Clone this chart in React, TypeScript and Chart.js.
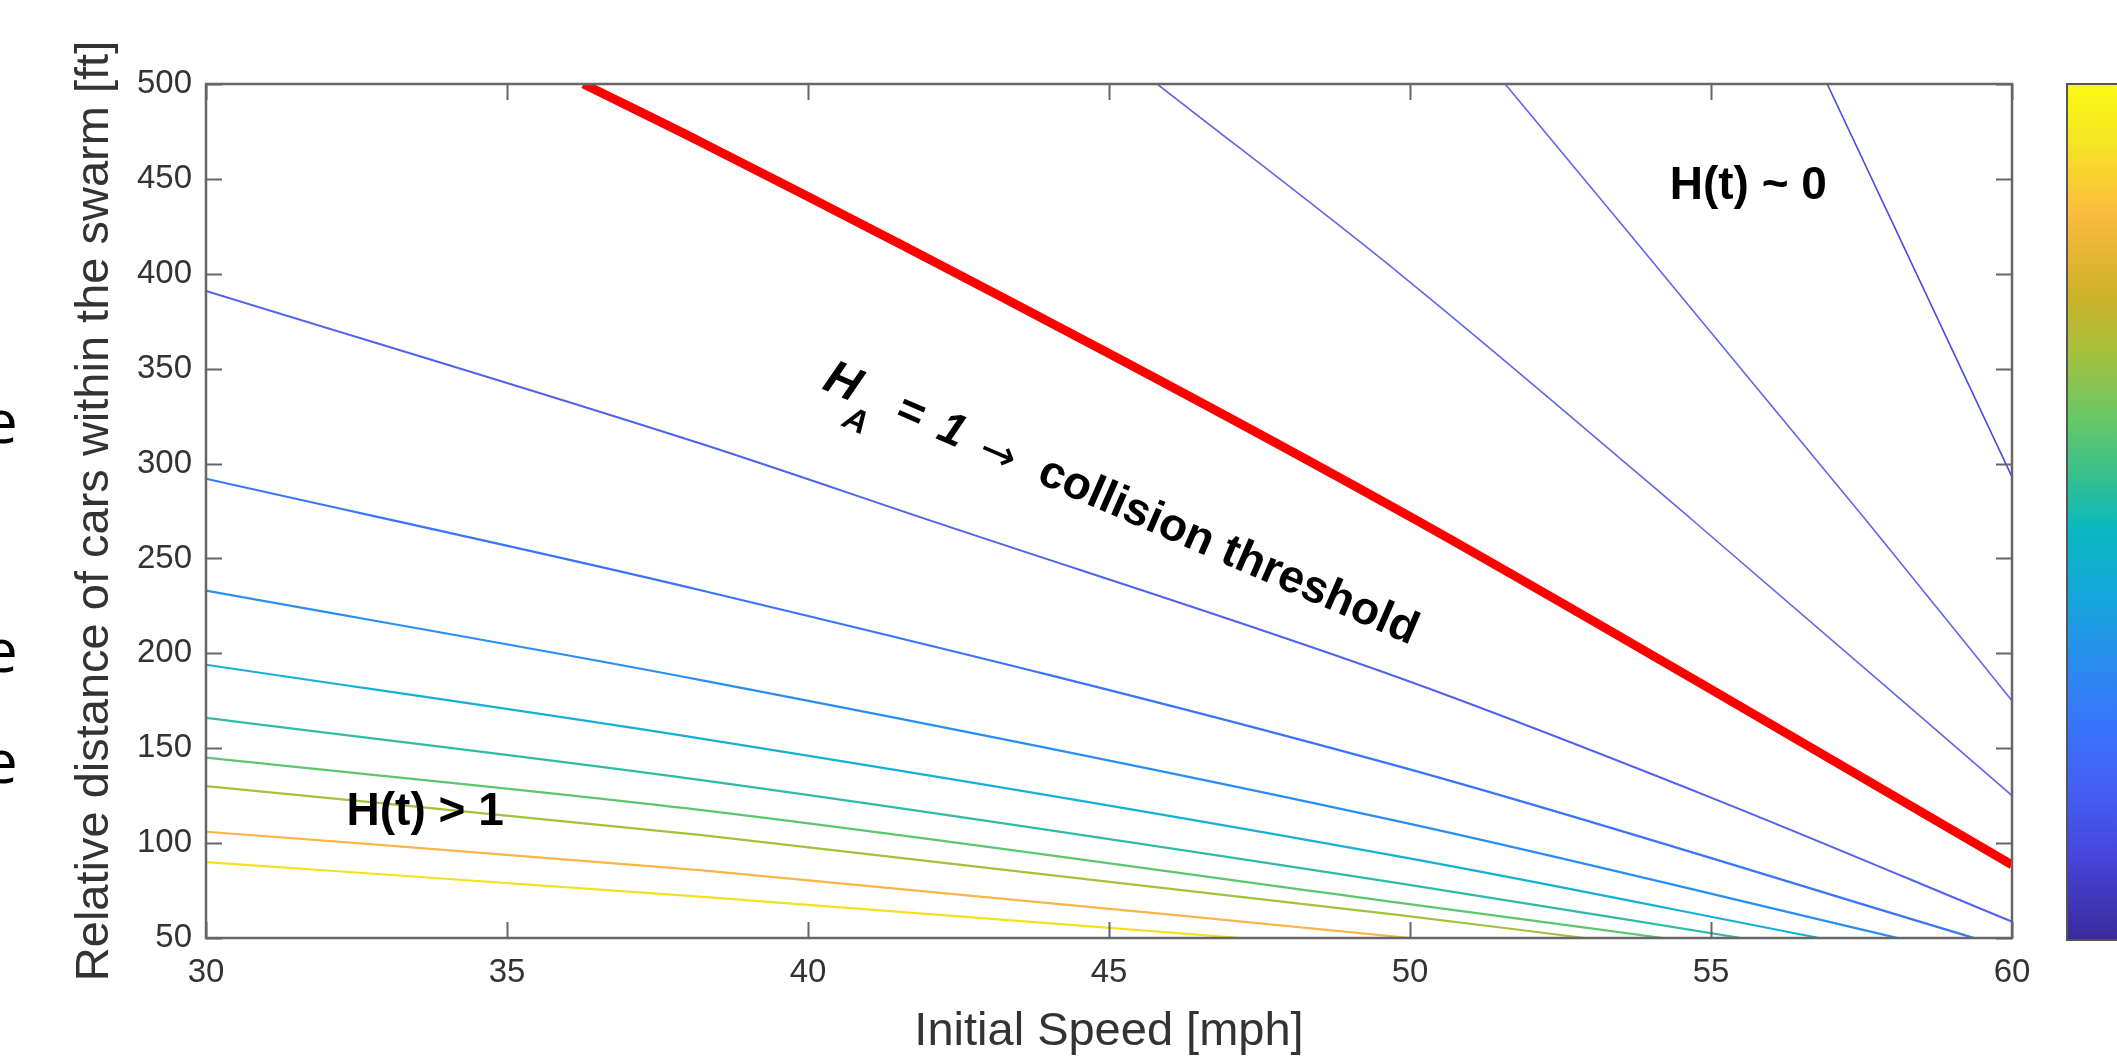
import React, { useEffect, useRef } from 'react';
import { Chart, registerables } from 'chart.js';

Chart.register(...registerables);

const W = 2117;
const H = 1056;

// ---- axes ----
const SPEED_MIN = 30;
const SPEED_MAX = 60;
const SPEED_STEP = 5;
const DIST_MIN = 50;
const DIST_MAX = 500;
const DIST_STEP = 50;
const X_TITLE = 'Initial Speed [mph]';
const Y_TITLE = 'Relative distance of cars within the swarm [ft]';

// ---- contour lines: [initial speed (mph), relative distance (ft)] ----
const contourU4: [number, number][] = [[56.93, 500], [60, 293]];
const contourU3: [number, number][] = [[51.58, 500], [57.58, 270], [60, 175]];
const contourU2: [number, number][] = [[45.8, 500], [49.83, 400], [54.7, 270], [60, 125]];
const collisionThreshold: [number, number][] = [[36.27, 500], [38.21, 469.6], [45, 358], [50, 272], [55, 181], [60, 88.5]];
const contourL1: [number, number][] = [[30, 391], [38.2, 310.7], [42, 270.3], [49.83, 187], [55, 124], [60, 58.6]];
const contourL2: [number, number][] = [[30, 292], [38.2, 233.4], [49.83, 140.3], [59.37, 50]];
const contourL3: [number, number][] = [[30, 233], [38.2, 186], [49.83, 111.3], [58.1, 50]];
const contourL4: [number, number][] = [[30, 194], [38.2, 155.2], [49.83, 92.9], [56.8, 50]];
const contourL5: [number, number][] = [[30, 166], [38.2, 133.3], [49.83, 78.8], [55.5, 50]];
const contourL6: [number, number][] = [[30, 145], [38.2, 117.5], [49.83, 68.5], [54.2, 50]];
const contourL7: [number, number][] = [[30, 130], [38.2, 104.3], [49.83, 62.1], [52.9, 50]];
const contourL8: [number, number][] = [[30, 106], [38.2, 85.8], [50, 50]];
const contourL9: [number, number][] = [[30, 90], [38.2, 71.8], [47.2, 50]];

// ---- text annotations (positions in data units) ----
const LABEL_HIGH = { text: 'H(t) > 1', speed: 33.64, dist: 109.6 };
const LABEL_LOW = { text: 'H(t) ~ 0', speed: 55.62, dist: 439.4 };
const THRESHOLD_ANCHOR = { speed: 43.78, dist: 290.4, angleDeg: 23.5 };
const THRESHOLD_TEXT = 'collision threshold';

// colorbar stops (top = high level, bottom = low level)
const COLORBAR_STOPS: [number, string][] = [
  [0.0, '#f9fa14'],
  [0.07, '#f5e424'],
  [0.15, '#fcbc3e'],
  [0.24, '#d2b128'],
  [0.31, '#a9c03b'],
  [0.39, '#68c865'],
  [0.46, '#35c090'],
  [0.52, '#08b8c0'],
  [0.6, '#16a6db'],
  [0.68, '#2a8bf0'],
  [0.75, '#3874fb'],
  [0.82, '#4560f6'],
  [0.9, '#4646dc'],
  [0.98, '#3d2fa8'],
  [1.0, '#3b2a9e'],
];

const SERIES = [
  { pts: contourL9, color: '#f2e21c', width: 2.2 },
  { pts: contourL8, color: '#fbb445', width: 2.2 },
  { pts: contourL7, color: '#a3c23c', width: 2.2 },
  { pts: contourL6, color: '#5cc66e', width: 2.2 },
  { pts: contourL5, color: '#2fbca5', width: 2.2 },
  { pts: contourL4, color: '#14b0d6', width: 2.2 },
  { pts: contourL3, color: '#2a8ef0', width: 2.2 },
  { pts: contourL2, color: '#3a74f8', width: 2.2 },
  { pts: contourL1, color: '#4f62f0', width: 2.0 },
  { pts: contourU2, color: '#6464e4', width: 1.6 },
  { pts: contourU3, color: '#6464e4', width: 1.6 },
  { pts: contourU4, color: '#4c4cd8', width: 1.6 },
  { pts: collisionThreshold, color: '#ff0000', width: 9 },
];

const FONT = '"Liberation Sans", Arial, Helvetica, sans-serif';
const AXIS_COLOR = '#666666';
const TEXT_GRAY = '#333333';
const TICK_LEN = 16;

const matlabAxes = {
  id: 'matlabAxes',
  afterDatasetsDraw(chart: any) {
    const { ctx, chartArea } = chart;
    const { left, right, top, bottom } = chartArea;
    const xs = chart.scales.x;
    const ys = chart.scales.y;
    ctx.save();
    ctx.strokeStyle = AXIS_COLOR;
    ctx.lineWidth = 2;
    ctx.beginPath();
    for (const t of xs.ticks) {
      const px = Math.round(xs.getPixelForValue(t.value)) + 0.5;
      ctx.moveTo(px, bottom);
      ctx.lineTo(px, bottom - TICK_LEN);
      ctx.moveTo(px, top);
      ctx.lineTo(px, top + TICK_LEN);
    }
    for (const t of ys.ticks) {
      const py = Math.round(ys.getPixelForValue(t.value)) + 0.5;
      ctx.moveTo(left, py);
      ctx.lineTo(left + TICK_LEN, py);
      ctx.moveTo(right, py);
      ctx.lineTo(right - TICK_LEN, py);
    }
    ctx.stroke();
    ctx.lineWidth = 2.5;
    ctx.strokeRect(left, top, right - left, bottom - top);

    // colorbar
    const cbLeft = 2067;
    const cbRight = W;
    const grad = ctx.createLinearGradient(0, top, 0, bottom + 2);
    for (const [p, c] of COLORBAR_STOPS) grad.addColorStop(p, c);
    ctx.fillStyle = grad;
    ctx.fillRect(cbLeft, top, cbRight - cbLeft, bottom + 2 - top);
    ctx.strokeStyle = '#555555';
    ctx.lineWidth = 2;
    ctx.beginPath();
    ctx.moveTo(cbRight, top);
    ctx.lineTo(cbLeft, top);
    ctx.lineTo(cbLeft, bottom + 2);
    ctx.lineTo(cbRight, bottom + 2);
    ctx.stroke();
    ctx.restore();
  },
  afterDraw(chart: any) {
    const { ctx } = chart;
    const xs = chart.scales.x;
    const ys = chart.scales.y;
    ctx.save();
    ctx.fillStyle = '#000000';
    ctx.textBaseline = 'alphabetic';
    ctx.textAlign = 'center';
    ctx.font = `bold 46px ${FONT}`;
    for (const a of [LABEL_HIGH, LABEL_LOW]) {
      ctx.fillText(a.text, xs.getPixelForValue(a.speed), ys.getPixelForValue(a.dist));
    }
    // rotated threshold label
    const ax = xs.getPixelForValue(THRESHOLD_ANCHOR.speed);
    const ay = ys.getPixelForValue(THRESHOLD_ANCHOR.dist);
    ctx.translate(ax, ay);
    ctx.rotate((THRESHOLD_ANCHOR.angleDeg * Math.PI) / 180);
    ctx.textAlign = 'left';
    ctx.font = `bold 46px ${FONT}`;
    ctx.fillText(THRESHOLD_TEXT, 0, 0);
    ctx.font = `italic bold 48px ${FONT}`;
    ctx.fillText('H', -234, 0);
    ctx.font = `italic bold 33px ${FONT}`;
    ctx.fillText('A', -201, 26);
    ctx.font = `italic bold 46px ${FONT}`;
    ctx.fillText('=', -156, 0);
    ctx.fillText('1', -110, 0);
    ctx.font = `44px "DejaVu Sans", sans-serif`;
    ctx.fillText('\u2192', -64, 3);
    ctx.restore();
  },
};

const LEFT_FRAGMENTS = [
  { text: 'e', top: 390 },
  { text: 'e', top: 619 },
  { text: 'e', top: 730 },
];

export default function App() {
  const ref = useRef<HTMLCanvasElement | null>(null);

  useEffect(() => {
    const canvas = ref.current;
    if (!canvas) return;
    const chart = new Chart(canvas, {
      type: 'line',
      data: {
        datasets: SERIES.map((s) => ({
          data: s.pts.map(([sp, d]) => ({ x: sp, y: d })),
          borderColor: s.color,
          backgroundColor: s.color,
          borderWidth: s.width,
          pointRadius: 0,
          pointHoverRadius: 0,
          fill: false,
          cubicInterpolationMode: 'monotone' as const,
          clip: 0,
        })),
      },
      options: {
        animation: false,
        responsive: false,
        maintainAspectRatio: false,
        events: [],
        layout: { padding: { left: 0, right: 105, top: 84, bottom: 0 } },
        plugins: { legend: { display: false }, tooltip: { enabled: false } },
        scales: {
          x: {
            type: 'linear',
            min: SPEED_MIN,
            max: SPEED_MAX,
            grid: { display: false, drawTicks: false },
            border: { display: false },
            ticks: {
              stepSize: SPEED_STEP,
              padding: 15.5,
              color: TEXT_GRAY,
              font: { family: FONT, size: 33 },
              maxRotation: 0,
              callback: (v: any) => String(v),
            },
            title: {
              display: true,
              text: X_TITLE,
              color: TEXT_GRAY,
              font: { family: FONT, size: 47, lineHeight: 1 },
              padding: { top: 0, bottom: 0 },
            },
            afterFit: (s: any) => {
              s.height = 118;
            },
          },
          y: {
            type: 'linear',
            min: DIST_MIN,
            max: DIST_MAX,
            grid: { display: false, drawTicks: false },
            border: { display: false },
            ticks: {
              stepSize: DIST_STEP,
              padding: 14,
              color: TEXT_GRAY,
              font: { family: FONT, size: 33 },
              callback: (v: any) => String(v),
            },
            title: {
              display: true,
              text: Y_TITLE,
              color: TEXT_GRAY,
              font: { family: FONT, size: 47 },
              padding: { top: 67, bottom: 0 },
            },
            afterFit: (s: any) => {
              s.width = 206;
            },
          },
        },
      },
      plugins: [matlabAxes],
    } as any);
    return () => chart.destroy();
  }, []);

  return (
    <div
      style={{
        position: 'fixed',
        left: 0,
        top: 0,
        width: W,
        height: H,
        overflow: 'hidden',
        background: '#ffffff',
      }}
    >
      <canvas
        ref={ref}
        width={W}
        height={H}
        style={{ position: 'absolute', left: 0, top: 0, width: W, height: H, display: 'block' }}
      />
      {LEFT_FRAGMENTS.map((f, i) => (
        <div
          key={i}
          style={{
            position: 'absolute',
            left: -16,
            top: f.top,
            fontFamily: '"Open Sans", sans-serif',
            fontSize: 60,
            lineHeight: '60px',
            color: '#000',
          }}
        >
          {f.text}
        </div>
      ))}
    </div>
  );
}
